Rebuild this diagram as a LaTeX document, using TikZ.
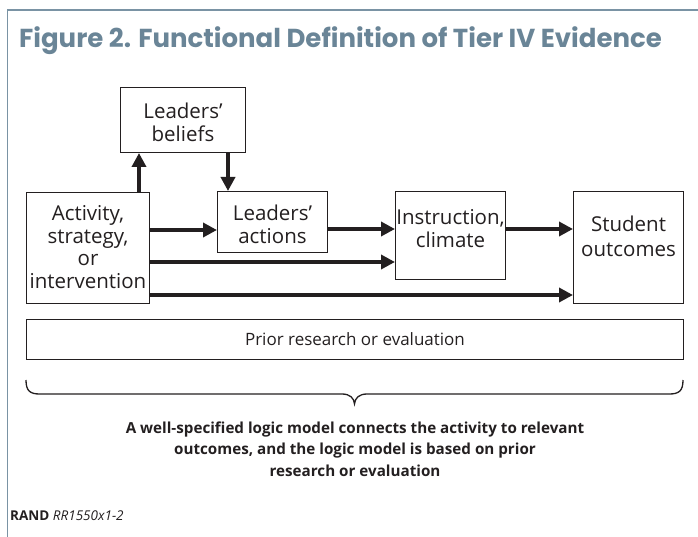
\documentclass[tikz,border=0pt]{standalone}
\usepackage{fontspec}
\setmainfont{Open Sans}
\newfontfamily\titlefont{Poppins}[UprightFont=* Bold]
\usetikzlibrary{arrows.meta}
\definecolor{framecol}{HTML}{7A93A4}
\definecolor{titlecol}{HTML}{6A8597}
\definecolor{ink}{HTML}{231F20}
\tikzset{
  box/.style={draw=ink, line width=1pt, rectangle, inner sep=0pt, anchor=north west},
  boxtext/.style={align=center, font=\fontsize{20.5}{22.7}\selectfont, text=ink, inner sep=0pt},
  arr/.style={draw=ink, line width=4pt, -{Triangle[length=14pt,width=14pt]}}
}
\begin{document}
\begin{tikzpicture}[x=1pt,y=-1pt]
\useasboundingbox (0,0) rectangle (698,537);
% frame
\draw[framecol, line width=1.4pt] (7.5,537) -- (7.5,10) -- (698,10);
% title
\node[anchor=base west, inner sep=0pt, text=titlecol, font=\titlefont\fontsize{26}{30}\selectfont] (title) at (19,48) {Figure 2. Functional Definition of Tier IV Evidence};
% boxes
\node[box, minimum width=125pt, minimum height=65pt] (bel) at (120,87) {};
\node[boxtext] (beltxt) at ([yshift=-2]bel.center) {Leaders’\\beliefs};
\node[box, minimum width=123pt, minimum height=111pt] (act) at (26,192) {};
\node[boxtext] (acttxt) at ([yshift=1]act.center) {Activity,\\strategy,\\or\\intervention};
\node[box, minimum width=110pt, minimum height=61pt] (acn) at (217,191) {};
\node[boxtext] (acntxt) at ([yshift=-2]acn.center) {Leaders’\\actions};
\node[box, minimum width=110pt, minimum height=88pt] (ins) at (395,191) {};
\node[boxtext] (instxt) at ([yshift=7]ins.center) {Instruction,\\climate};
\node[box, minimum width=110pt, minimum height=112pt] (stu) at (573,191) {};
\node[boxtext, font=\fontsize{20.5}{24.5}\selectfont] (stutxt) at ([yshift=11]stu.center) {Student\\outcomes};
\node[box, minimum width=657pt, minimum height=40pt] (pri) at (26,319) {};
\node[align=center, inner sep=0pt, text=ink, font=\fontsize{17}{20}\selectfont] (pritxt) at (pri.center) {Prior research or evaluation};
% arrows
\draw[arr] (act.north -| 139,0) -- (bel.south -| 139,0);
\draw[arr] (bel.south -| 228,0) -- (acn.north -| 228,0);
\draw[arr] (act.east |- 0,230) -- (acn.west |- 0,230);
\draw[arr] (acn.east |- 0,229) -- (ins.west |- 0,229);
\draw[arr] (ins.east |- 0,229) -- (stu.west |- 0,229);
\draw[arr] (act.east |- 0,262) -- (ins.west |- 0,262);
\draw[arr] (act.east |- 0,295) -- (stu.west |- 0,295);
% brace
\coordinate (bl) at (26,380);
\coordinate (br) at (683,380);
\coordinate (btip) at (354.5,404);
\draw[ink, line width=1.3pt] (bl) .. controls (26,391) and (30,394) .. (40,394) -- (342,394)
  .. controls (350,394) and (354,398) .. (btip)
  .. controls (355,398) and (359,394) .. (367,394) -- (669,394)
  .. controls (679,394) and (683,391) .. (br);
% conclusion
\node[align=center, inner sep=0pt, text=ink, font=\bfseries\fontsize{15.2}{21.5}\selectfont] (concl) at (355,449)
  {A well-specified logic model connects the activity to relevant\\outcomes, and the logic model is based on prior\\research or evaluation};
% source
\node[anchor=base west, inner sep=0pt, text=ink, font=\fontsize{13.5}{15}\selectfont] (src) at (10,520) {\textbf{RAND} \textit{RR1550x1-2}};
\end{tikzpicture}
\end{document}
